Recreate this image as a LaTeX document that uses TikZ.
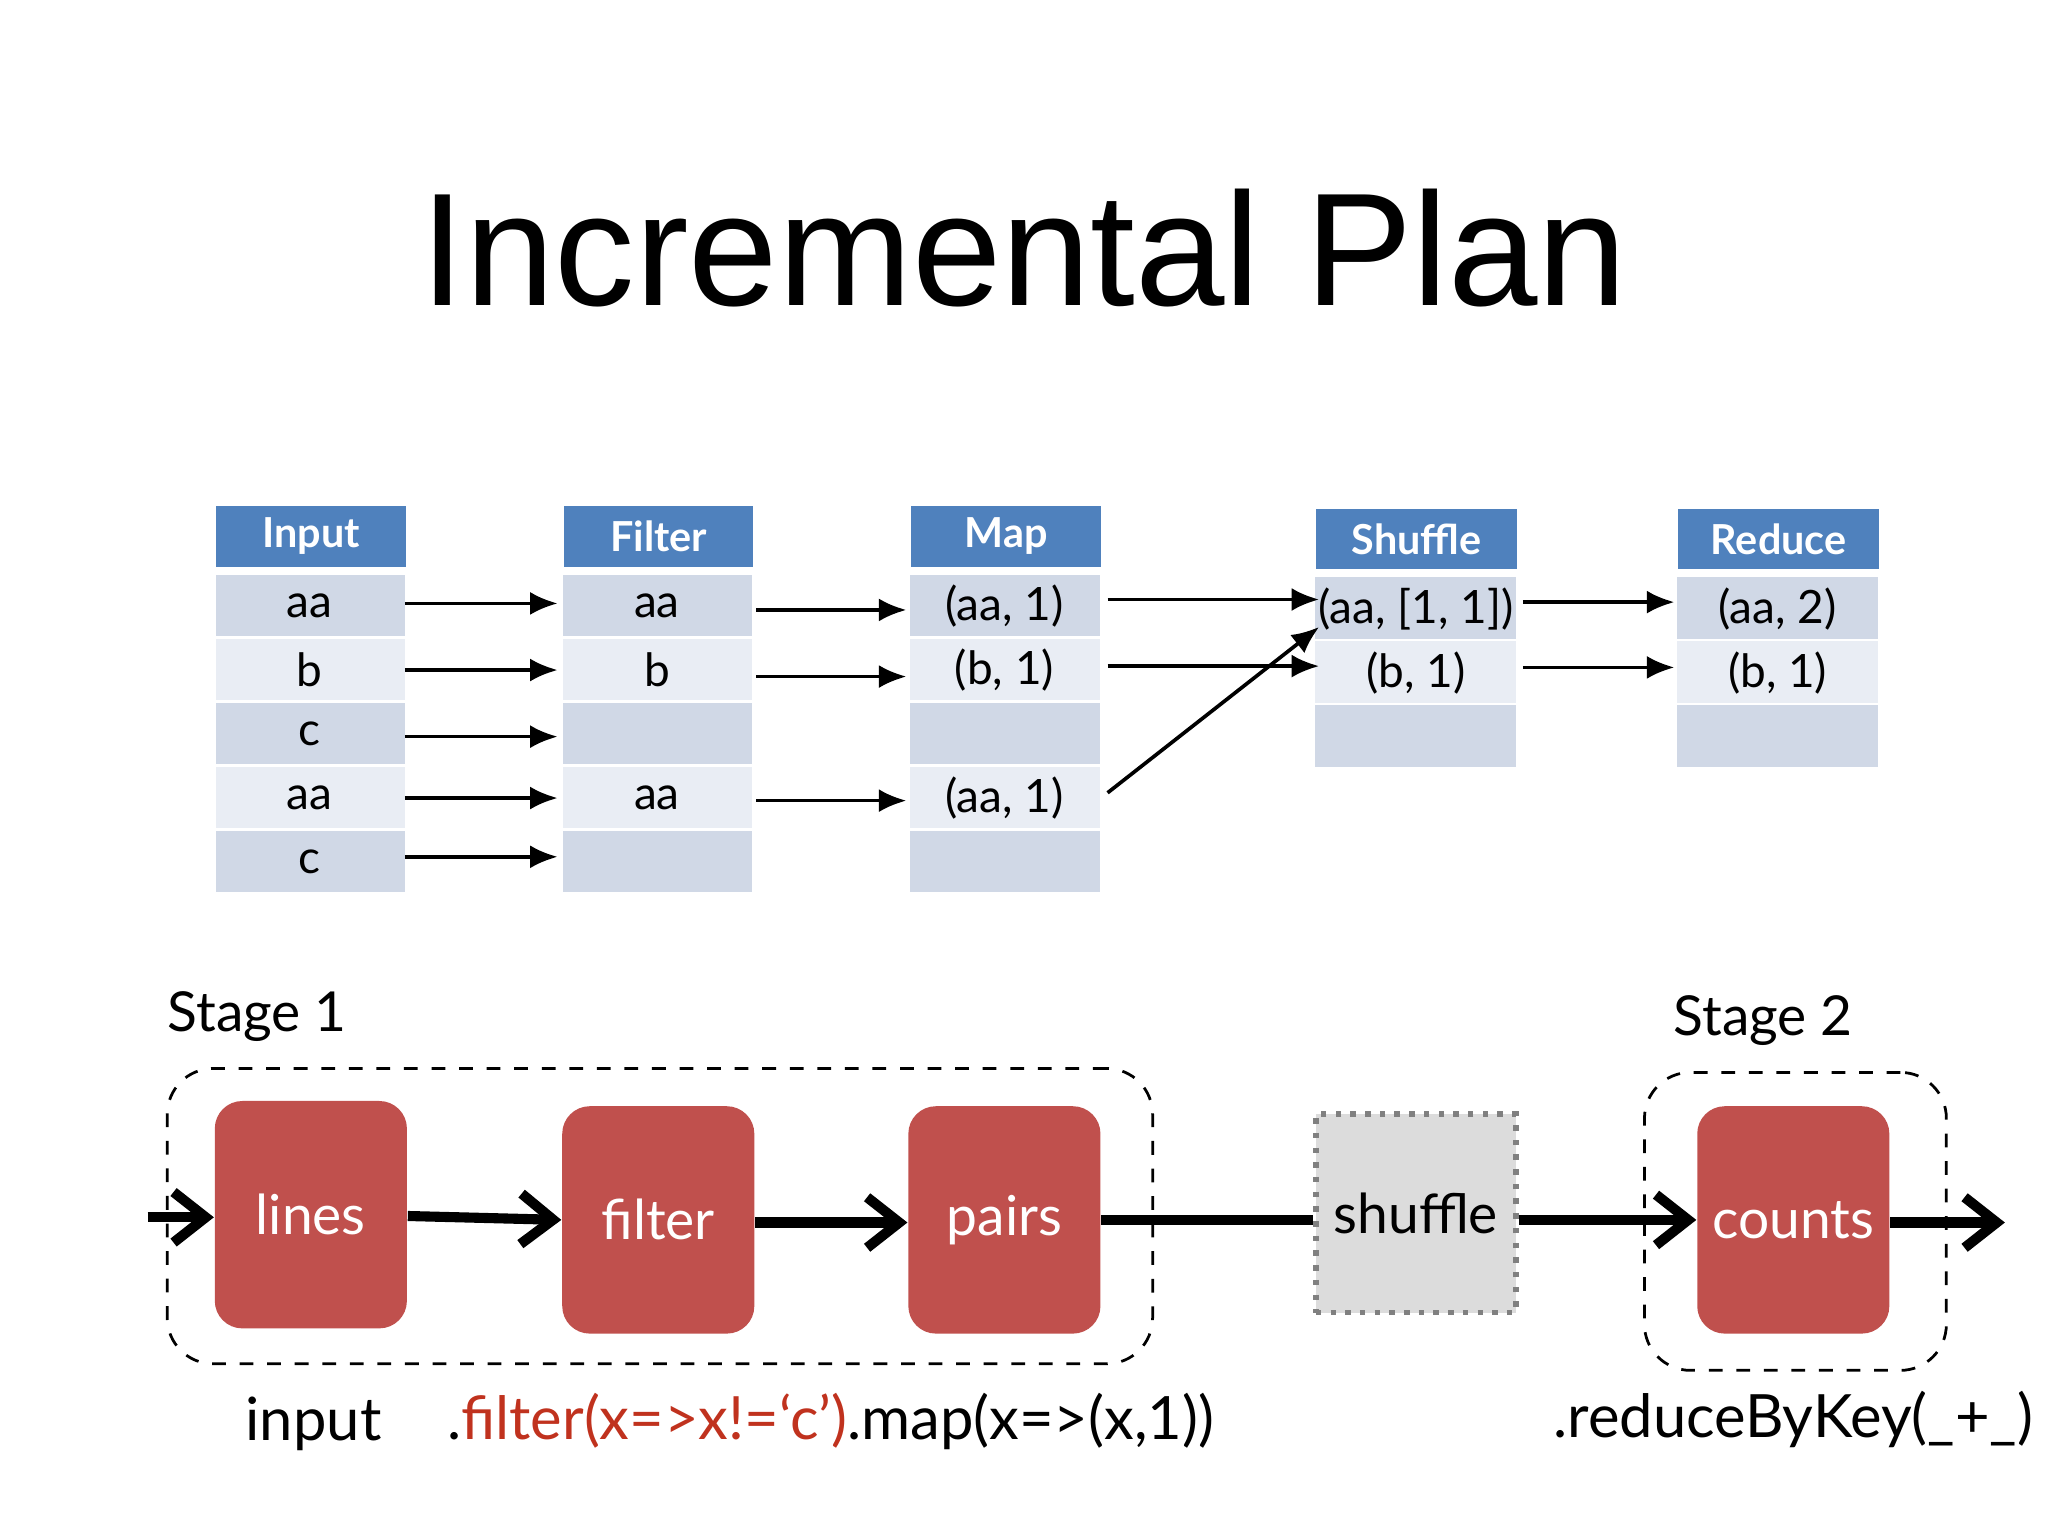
\documentclass[tikz,border=0pt]{standalone}
\usepackage{fontspec}
\setmainfont{Lato}
\newfontfamily\titlefont{Liberation Sans}
\usetikzlibrary{arrows.meta,calc}
\definecolor{hdr}{HTML}{4F81BD}
\definecolor{dk}{HTML}{D0D8E6}
\definecolor{lt}{HTML}{E9EDF4}
\definecolor{rd}{HTML}{C0504D}
\definecolor{codered}{HTML}{C0321E}
\definecolor{gr}{HTML}{DCDCDC}
\begin{document}
\begin{tikzpicture}[x=0.01cm,y=-0.01cm,
 hd/.style={fill=hdr,text=white,font=\fontsize{9}{10}\selectfont\bfseries,minimum width=1.45cm,minimum height=0.46cm,inner sep=0,anchor=north west},
 tt/.style={font=\fontsize{10}{12}\selectfont},
 ar/.style={-{Latex[length=6pt,width=5pt]},line width=0.8pt},
 big/.style={-{Straight Barb[length=7pt,width=11pt]},line width=2.2pt},
 rbox/.style={fill=rd,rounded corners=6pt,text=white,font=\fontsize{12}{14}\selectfont,minimum width=1.47cm,minimum height=1.74cm,inner sep=0},
 dsh/.style={dashed,rounded corners=10pt,line width=0.6pt},
 lab/.style={font=\fontsize{12}{14}\selectfont},
 code/.style={font=\fontsize{13}{16}\selectfont}]
\useasboundingbox (0,0) rectangle (1568,1176);
\node[font=\titlefont\fontsize{35}{40}\selectfont] (title) at (784,190) {Incremental Plan};
% table cells
\foreach \xa/\xb/\ya in {165/310/387, 431/576/387, 697/842/387}{
 \foreach \r in {1,...,5}{
   \pgfmathparse{isodd(\r)?"dk":"lt"}\edef\cc{\pgfmathresult}
   \path[fill=\cc] (\xa,\ya+53+49*\r-49) rectangle (\xb,\ya+53+49*\r-2);
 }
}
\foreach \xa/\xb/\ya in {1007/1161/389, 1284/1438/389}{
 \foreach \r in {1,2,3}{
   \pgfmathparse{isodd(\r)?"dk":"lt"}\edef\cc{\pgfmathresult}
   \path[fill=\cc] (\xa,\ya+53+49*\r-49) rectangle (\xb,\ya+53+49*\r-2);
 }
}
\node[hd] (hin) at (165,387) {Input};
\node[hd] (hfi) at (431,387) {Filter};
\node[hd] (hma) at (697,387) {Map};
\node[hd,minimum width=1.54cm] (hsh) at (1007,389) {Shuffle};
\node[hd,minimum width=1.54cm] (hre) at (1284,389) {Reduce};
\node[tt] (in1) at (237,464) {aa};
\node[tt] (in2) at (237,513) {b};
\node[tt] (in3) at (237,562) {c};
\node[tt] (in4) at (237,611) {aa};
\node[tt] (in5) at (237,660) {c};
\node[tt] (fi1) at (503,464) {aa};
\node[tt] (fi2) at (503,513) {b};
\node[tt] (fi4) at (503,611) {aa};
\node[tt] (ma1) at (769,464) {(aa, 1)};
\node[tt] (ma2) at (769,513) {(b, 1)};
\node[tt] (ma4) at (769,611) {(aa, 1)};
\node[tt] (sh1) at (1084,466) {(aa, [1, 1])};
\node[tt] (sh2) at (1084,515) {(b, 1)};
\node[tt] (re1) at (1361,466) {(aa, 2)};
\node[tt] (re2) at (1361,515) {(b, 1)};
% arrow end points
\foreach \r/\y in {1/462,2/513,3/564,4/611,5/656}{
 \coordinate (a\r s) at (310,\y); \coordinate (a\r e) at (427,\y);
 \draw[ar] (a\r s) -- (a\r e);
}
\foreach \r/\y in {1/467,2/518,4/613}{
 \coordinate (b\r s) at (579,\y); \coordinate (b\r e) at (694,\y);
 \draw[ar] (b\r s) -- (b\r e);
}
\coordinate (c1s) at (848,459); \coordinate (c1e) at (1010,459);
\coordinate (c2s) at (848,510); \coordinate (c2e) at (1010,510);
\coordinate (c4s) at (848,607); \coordinate (c4e) at (1010,480);
\coordinate (d1s) at (1166,461); \coordinate (d1e) at (1282,461);
\coordinate (d2s) at (1166,511); \coordinate (d2e) at (1282,511);
\foreach \p in {c1,c2,c4,d1,d2}{ \draw[ar] (\p s) -- (\p e); }
% bottom
\node[draw,dsh,minimum width=7.54cm,minimum height=2.26cm,anchor=north west] (st1) at (127,817) {};
\node[draw,dsh,minimum width=2.31cm,minimum height=2.28cm,anchor=north west] (st2) at (1258,820) {};
\node[lab] (s1l) at (197,778) {Stage 1};
\node[lab] (s2l) at (1350,781) {Stage 2};
\node[rbox] (lines) at (238,930) {lines};
\node[rbox] (filter) at (504,934) {filter};
\node[rbox] (pairs) at (769,934) {pairs};
\node[fill=gr,draw=gray,dotted,line width=1.2pt,minimum width=1.53cm,minimum height=1.52cm,inner sep=0,font=\fontsize{12}{14}\selectfont] (shuffle) at (1084,929) {shuffle};
\node[rbox] (counts) at (1373,934) {counts};
\coordinate (inS) at (113,932);
\coordinate (outE) at (1535,936);
\draw[big] (inS) -- (lines.west|-inS);
\draw[big] (lines.east|-0,931) -- (filter.west|-0,934);
\draw[big] (filter.east|-0,936) -- (pairs.west|-0,936);
\draw[line width=2.2pt] (pairs.east|-0,934) -- (shuffle.west|-0,934);
\draw[big] (shuffle.east|-0,934) -- (counts.west|-0,934);
\draw[big] (counts.east|-0,936) -- (outE);
\node[code] (inl) at (240,1090) {input};
\node[code] (cod) at (636,1088) {.\textcolor{codered}{filter(x=>x!=‘c’)}.map(x=>(x,1))};
\node[code] (red) at (1373,1087) {.reduceByKey(\_+\_)};
\end{tikzpicture}
\end{document}
